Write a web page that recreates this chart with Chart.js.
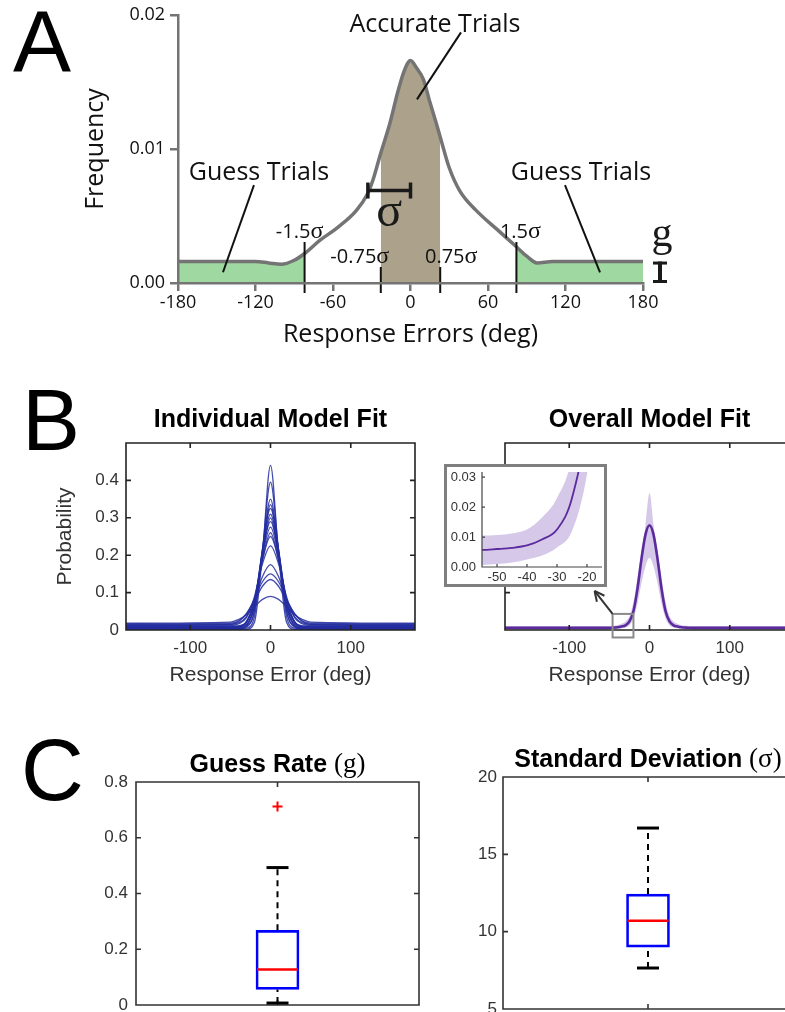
<!DOCTYPE html>
<html>
<head>
<meta charset="utf-8">
<title>Mixture model of response errors</title>
<script src="https://cdn.jsdelivr.net/npm/chart.js@4.4.1/dist/chart.umd.min.js"></script>
<style>
  html, body { margin: 0; padding: 0; background: #fff; overflow: hidden; width: 785px; height: 1012px; }
  #fig { position: relative; width: 785px; height: 1012px; overflow: hidden; }
  #fig > canvas { position: absolute; }
  #insetFrame { position: absolute; left: 444px; top: 464px; width: 157px; height: 117px;
                border: 3px solid #7f7f7f; background: #fff; }
  #insetFrame canvas { position: absolute; left: 0; top: 0; }
</style>
</head>
<body>
<div id="fig">
  <canvas id="panelA" width="785" height="360" style="left:0;top:0;width:785px;height:360px"></canvas>
  <canvas id="fitIndividual" width="440" height="320" style="left:0;top:380px;width:440px;height:320px"></canvas>
  <canvas id="fitOverall" width="380" height="320" style="left:420px;top:380px;width:380px;height:320px"></canvas>
  <div id="insetFrame"><canvas id="fitInset" width="157" height="117" style="width:157px;height:117px"></canvas></div>
  <canvas id="guessBoxChart" width="440" height="292" style="left:0;top:720px;width:440px;height:292px"></canvas>
  <canvas id="sdBoxChart" width="380" height="292" style="left:420px;top:720px;width:380px;height:292px"></canvas>
</div>
<script>
// ---------------- data ----------------
// A: schematic error distribution (deg -> frequency)
const schematicErrors = [-180,-150,-120,-110,-100,-90,-82,-70,-57,-42,-33,-29,-23,-16,-10,-5,0,5,10,15,20,23,30,38,51,67,82,90,98,110,120,150,180];
const schematicFreq   = [0.0016,0.0016,0.0016,0.0015,0.0014,0.0017,0.0022,0.0032,0.0041,0.0054,0.0067,0.0077,0.0097,0.0119,0.0142,0.0158,0.0166,0.0160,0.0152,0.0135,0.0119,0.0109,0.0086,0.0069,0.0054,0.0040,0.0027,0.0020,0.0015,0.0016,0.0016,0.0016,0.0016];
const guessZones   = [[-180, -82], [82, 180]];
const accurateZone = [-23, 23];
const boundaryDeg    = [-82, -23, 23, 82];
const boundaryLabels = ['-1.5', '-0.75', '0.75', '1.5'];
const sigmaSpan  = [-33, 0];
const sigmaLevel = 0.0069;
const errTicksA  = [-180, -120, -60, 0, 60, 120, 180];
const freqTicks  = [0, 0.01, 0.02];

// B: individual model fits (probability per response error)
const fitErrors = [-180,-50,-40,-30,-20,-10,0,10,20,30,40,50,180];
const fitS01 = [0.002,0.002,0.002,0.002,0.021,0.203,0.440,0.203,0.021,0.002,0.002,0.002,0.002];
const fitS02 = [0.003,0.003,0.003,0.005,0.036,0.214,0.395,0.214,0.036,0.005,0.003,0.003,0.003];
const fitS03 = [0.004,0.004,0.004,0.008,0.051,0.214,0.350,0.214,0.051,0.008,0.004,0.004,0.004];
const fitS04 = [0.006,0.006,0.006,0.010,0.050,0.206,0.335,0.206,0.050,0.010,0.006,0.006,0.006];
const fitS05 = [0.003,0.003,0.003,0.011,0.065,0.216,0.325,0.216,0.065,0.011,0.003,0.003,0.003];
const fitS06 = [0.008,0.008,0.008,0.015,0.066,0.208,0.310,0.208,0.066,0.015,0.008,0.008,0.008];
const fitS07 = [0.005,0.005,0.005,0.012,0.062,0.200,0.300,0.200,0.062,0.012,0.005,0.005,0.005];
const fitS08 = [0.007,0.007,0.008,0.019,0.078,0.207,0.290,0.207,0.078,0.019,0.008,0.007,0.007];
const fitS09 = [0.009,0.009,0.010,0.021,0.075,0.197,0.275,0.197,0.075,0.021,0.010,0.009,0.009];
const fitS10 = [0.010,0.010,0.011,0.021,0.072,0.187,0.260,0.187,0.072,0.021,0.011,0.010,0.010];
const fitS11 = [0.006,0.006,0.008,0.023,0.081,0.188,0.250,0.188,0.081,0.023,0.008,0.006,0.006];
const fitS12 = [0.012,0.012,0.016,0.033,0.089,0.177,0.225,0.177,0.089,0.033,0.016,0.012,0.012];
const fitS13 = [0.014,0.015,0.019,0.036,0.080,0.143,0.175,0.143,0.080,0.036,0.019,0.015,0.014];
const fitS14 = [0.016,0.018,0.024,0.044,0.083,0.129,0.150,0.129,0.083,0.044,0.024,0.018,0.016];
const fitS15 = [0.012,0.015,0.022,0.043,0.078,0.117,0.135,0.117,0.078,0.043,0.022,0.015,0.012];
const fitS16 = [0.018,0.021,0.028,0.041,0.062,0.082,0.090,0.082,0.062,0.041,0.028,0.021,0.018];
const subjectFits = [fitS01,fitS02,fitS03,fitS04,fitS05,fitS06,fitS07,fitS08,fitS09,fitS10,fitS11,fitS12,fitS13,fitS14,fitS15,fitS16];

// B: overall fit, mean with spread band
const overallErrors = [-180,-60,-55,-50,-45,-40,-35,-30,-25,-20,-15,-10,-5,0,5,10,15,20,25,30,35,40,45,50,55,60,180];
const overallMean  = [0.0057,0.0057,0.0057,0.0060,0.0064,0.0072,0.0092,0.0125,0.023,0.050,0.110,0.190,0.255,0.280,0.255,0.190,0.110,0.050,0.023,0.0125,0.0092,0.0072,0.0064,0.0060,0.0057,0.0057,0.0057];
const overallUpper = [0.0105,0.0105,0.0105,0.0107,0.0112,0.0125,0.0165,0.023,0.037,0.075,0.140,0.210,0.280,0.366,0.280,0.210,0.140,0.075,0.037,0.023,0.0165,0.0125,0.0112,0.0107,0.0105,0.0105,0.0105];
const overallLower = [0.0007,0.0007,0.0007,0.0010,0.0015,0.0025,0.0038,0.0065,0.012,0.031,0.070,0.125,0.170,0.193,0.170,0.125,0.070,0.031,0.012,0.0065,0.0038,0.0025,0.0015,0.0010,0.0007,0.0007,0.0007];
const errTicksB   = [-100, 0, 100];
const probTicks   = [0, 0.1, 0.2, 0.3, 0.4];
const insetTicksX = [-50, -40, -30, -20];
const insetTicksY = [0, 0.01, 0.02, 0.03];
const zoomWindow  = { xMin: -46, xMax: -20, yMin: -0.02, yMax: 0.043 };

// C: parameter distributions [lower whisker, Q1, median, Q3, upper whisker]
const guessBox      = [0.007, 0.056, 0.127, 0.268, 0.493];
const guessOutliers = [0.712];
const guessTicks    = [0, 0.2, 0.4, 0.6, 0.8];
const sdBox         = [7.65, 9.0, 10.7, 12.43, 16.7];
const sdOutliers    = [];
const sdTicks       = [5, 10, 15, 20];

// ---------------- helpers ----------------
const SANS = '"Liberation Sans", Arial, sans-serif';
const OPEN = '"Open Sans", sans-serif';
const SERIF = '"Liberation Serif", "Times New Roman", serif';

const pts = (xs, ys) => xs.map((x, i) => ({ x, y: ys[i] }));
const setTicks = vals => s => { s.ticks = vals.map(v => ({ value: v })); };
const fixSize = (w, h) => s => {
  if (w !== undefined) s.width = w;
  if (h !== undefined) s.height = h;
  s.paddingLeft = s.paddingRight = s.paddingTop = s.paddingBottom = 0;
};
const noGrid = { display: false, drawTicks: false };

function drawParts(ctx, parts, x, y, align) {
  let total = 0;
  parts.forEach(p => { ctx.font = p[1]; total += ctx.measureText(p[0]).width; });
  let cx = align === 'center' ? x - total / 2 : (align === 'right' ? x - total : x);
  ctx.textAlign = 'left';
  ctx.textBaseline = 'alphabetic';
  parts.forEach(p => { ctx.font = p[1]; ctx.fillText(p[0], cx, y); cx += ctx.measureText(p[0]).width; });
}

function seg(ctx, x1, y1, x2, y2) {
  ctx.beginPath(); ctx.moveTo(x1, y1); ctx.lineTo(x2, y2); ctx.stroke();
}

// boxed axes with inward tick marks
const matlabFrame = {
  id: 'matlabFrame',
  afterDatasetsDraw(chart, args, o) {
    if (!o || !o.on) return;
    const { ctx, chartArea: a } = chart;
    const xs = chart.scales.x, ys = chart.scales.y;
    const L = o.tick;
    ctx.save();
    ctx.strokeStyle = o.color;
    ctx.lineWidth = o.width;
    ctx.beginPath();
    if (o.box) {
      ctx.rect(a.left, a.top, a.right - a.left, a.bottom - a.top);
    } else {
      ctx.moveTo(a.left, a.top); ctx.lineTo(a.left, a.bottom); ctx.lineTo(a.right, a.bottom);
    }
    xs.ticks.forEach(t => {
      const p = xs.getPixelForValue(t.value);
      ctx.moveTo(p, a.bottom); ctx.lineTo(p, a.bottom - L);
      if (o.box) { ctx.moveTo(p, a.top); ctx.lineTo(p, a.top + L); }
    });
    ys.ticks.forEach(t => {
      const p = ys.getPixelForValue(t.value);
      ctx.moveTo(a.left, p); ctx.lineTo(a.left + L, p);
      if (o.box) { ctx.moveTo(a.right, p); ctx.lineTo(a.right - L, p); }
    });
    ctx.stroke();
    ctx.restore();
  }
};

function headerPlugin(id, parts, baseline, letter) {
  return {
    id,
    afterDraw(chart) {
      const { ctx, chartArea: a } = chart;
      ctx.save();
      ctx.fillStyle = '#000';
      drawParts(ctx, parts, (a.left + a.right) / 2, baseline, 'center');
      if (letter) {
        ctx.font = '87px ' + SANS;
        ctx.textAlign = 'left';
        ctx.textBaseline = 'alphabetic';
        ctx.fillText(letter[0], letter[1], letter[2]);
      }
      ctx.restore();
    }
  };
}

const baseOptions = () => ({
  responsive: false,
  maintainAspectRatio: false,
  animation: false,
  events: [],
  plugins: { legend: { display: false }, tooltip: { enabled: false } }
});

// ---------------- A: schematic ----------------
const aDecor = {
  id: 'aDecor',
  afterDatasetsDraw(chart) {
    const { ctx, chartArea: a, scales: { x, y } } = chart;
    ctx.save();
    ctx.fillStyle = '#000';
    ctx.font = '87px ' + SANS;
    ctx.textAlign = 'left';
    ctx.textBaseline = 'alphabetic';
    ctx.fillText('A', 13, 72);

    // ±0.75σ and ±1.5σ boundaries
    ctx.strokeStyle = '#111';
    ctx.fillStyle = '#111';
    ctx.lineWidth = 2;
    const labelShift = [-5, -21, 11, 4];
    boundaryDeg.forEach((d, i) => {
      const px = x.getPixelForValue(d);
      const outer = Math.abs(d) > 50;
      seg(ctx, px, a.bottom - (outer ? 41 : 16), px, a.bottom + 10);
      drawParts(ctx, [[boundaryLabels[i], '20px ' + OPEN], ['σ', '24px ' + SERIF]],
                px + labelShift[i], outer ? 238 : 263, 'center');
    });

    // σ width bracket
    const sx0 = x.getPixelForValue(sigmaSpan[0]);
    const sx1 = x.getPixelForValue(sigmaSpan[1]);
    const sy = y.getPixelForValue(sigmaLevel);
    ctx.strokeStyle = '#1a1a1a';
    ctx.lineWidth = 3.5;
    seg(ctx, sx0, sy, sx1, sy);
    seg(ctx, sx0, sy - 8, sx0, sy + 8);
    seg(ctx, sx1, sy - 8, sx1, sy + 8);
    ctx.fillStyle = '#1a1a1a';
    drawParts(ctx, [['σ', '48px ' + SERIF]], (sx0 + sx1) / 2, sy + 35, 'center');

    // callouts
    ctx.fillStyle = '#111';
    drawParts(ctx, [['Accurate Trials', '25px ' + OPEN]], 435, 32, 'center');
    drawParts(ctx, [['Guess Trials', '25px ' + OPEN]], 259, 180, 'center');
    drawParts(ctx, [['Guess Trials', '25px ' + OPEN]], 581, 180, 'center');
    ctx.strokeStyle = '#111';
    ctx.lineWidth = 2;
    const lead = (d0, f0, d1, f1) => seg(ctx, x.getPixelForValue(d0), y.getPixelForValue(f0),
                                              x.getPixelForValue(d1), y.getPixelForValue(f1));
    lead(39.1, 0.0187, 5.0, 0.0137);
    lead(-121.2, 0.0073, -145.2, 0.0008);
    lead(119.6, 0.0073, 146.7, 0.0008);

    // guess-rate height marker
    const gx = a.right + 17;
    const gTop = y.getPixelForValue(schematicFreq[0]);
    const gBot = y.getPixelForValue(0);
    ctx.strokeStyle = '#1a1a1a';
    ctx.lineWidth = 4;
    seg(ctx, gx, gTop, gx, gBot);
    ctx.lineWidth = 3;
    seg(ctx, gx - 7, gTop + 1.5, gx + 7, gTop + 1.5);
    seg(ctx, gx - 7, gBot - 1.5, gx + 7, gBot - 1.5);
    ctx.fillStyle = '#1a1a1a';
    drawParts(ctx, [['g', '42px ' + SERIF]], gx + 2, gTop - 16, 'center');
    ctx.restore();
  }
};

const schematicPts = pts(schematicErrors, schematicFreq);
const zonePts = (lo, hi) => schematicPts.filter(p => p.x >= lo && p.x <= hi);

const optA = baseOptions();
optA.layout = { padding: { left: 81, right: 142, top: 15, bottom: 10 } };
optA.scales = {
  x: {
    type: 'linear', min: -180, max: 180,
    afterBuildTicks: setTicks(errTicksA), afterFit: fixSize(undefined, 67),
    grid: { drawOnChartArea: false, drawTicks: true, tickLength: 8, color: '#747474', lineWidth: 2.5 },
    border: { color: '#747474', width: 2.5, z: 1 },
    ticks: { font: { family: OPEN, size: 18 }, color: '#111', padding: 1, maxRotation: 0, autoSkip: false },
    title: { display: true, text: 'Response Errors (deg)', font: { family: OPEN, size: 25 }, color: '#111', padding: 0 }
  },
  y: {
    min: 0, max: 0.02,
    afterBuildTicks: setTicks(freqTicks), afterFit: fixSize(97, undefined),
    grid: { drawOnChartArea: false, drawTicks: true, tickLength: 8, color: '#747474', lineWidth: 2.5 },
    border: { color: '#747474', width: 2.5, z: 1 },
    ticks: { font: { family: OPEN, size: 18 }, color: '#111', padding: 5, callback: v => v.toFixed(2) },
    title: { display: true, text: 'Frequency', font: { family: OPEN, size: 25 }, color: '#111', padding: 0 }
  }
};

new Chart(document.getElementById('panelA'), {
  type: 'line',
  data: {
    datasets: [
      { data: schematicPts, borderColor: '#747474', borderWidth: 3.5, pointRadius: 0,
        cubicInterpolationMode: 'monotone', fill: false },
      ...guessZones.map(z => ({ data: zonePts(z[0], z[1]), borderWidth: 0, pointRadius: 0,
        cubicInterpolationMode: 'monotone', fill: 'origin', backgroundColor: '#9fd8a0' })),
      { data: zonePts(accurateZone[0], accurateZone[1]), borderWidth: 0, pointRadius: 0,
        cubicInterpolationMode: 'monotone', fill: 'origin', backgroundColor: '#aca18a' }
    ]
  },
  options: optA,
  plugins: [aDecor]
});

// ---------------- B: model fits ----------------
const bScaleX = (height) => ({
  type: 'linear', min: -180, max: 180,
  afterBuildTicks: setTicks(errTicksB), afterFit: fixSize(undefined, height),
  grid: noGrid, border: { display: false },
  ticks: { font: { family: SANS, size: 17 }, color: '#333', padding: 8, maxRotation: 0, autoSkip: false },
  title: { display: true, text: 'Response Error (deg)', font: { family: SANS, size: 21 }, color: '#333', padding: 0 }
});

const optBL = baseOptions();
optBL.layout = { padding: { left: 53, right: 25, top: 63, bottom: 12 } };
optBL.scales = {
  x: bScaleX(58),
  y: {
    min: 0, max: 0.5,
    afterBuildTicks: setTicks(probTicks), afterFit: fixSize(73, undefined),
    grid: noGrid, border: { display: false },
    ticks: { font: { family: SANS, size: 17 }, color: '#333', padding: 7 },
    title: { display: true, text: 'Probability', font: { family: SANS, size: 21 }, color: '#333', padding: 0 }
  }
};
optBL.plugins.matlabFrame = { on: true, box: true, color: '#222', width: 1.6, tick: 5 };

new Chart(document.getElementById('fitIndividual'), {
  type: 'line',
  data: {
    datasets: subjectFits.map(f => ({
      data: pts(fitErrors, f), borderColor: 'rgba(36,46,160,0.85)', borderWidth: 1.3,
      pointRadius: 0, cubicInterpolationMode: 'monotone', fill: false
    }))
  },
  options: optBL,
  plugins: [matlabFrame, headerPlugin('titleIndividual', [['Individual Model Fit', 'bold 25px ' + SANS]], 47, ['B', 22, 70])]
});

const overallDatasets = (lineWidth) => [
  { data: pts(overallErrors, overallMean), borderColor: '#5b2b9e', borderWidth: lineWidth, pointRadius: 0,
    cubicInterpolationMode: 'monotone', fill: false },
  { data: pts(overallErrors, overallUpper), borderWidth: 0, pointRadius: 0,
    cubicInterpolationMode: 'monotone', fill: { target: 2 }, backgroundColor: 'rgba(178,155,214,0.55)' },
  { data: pts(overallErrors, overallLower), borderWidth: 0, pointRadius: 0,
    cubicInterpolationMode: 'monotone', fill: false }
];

const overallDecor = {
  id: 'overallDecor',
  afterDatasetsDraw(chart) {
    const { ctx, scales: { x, y } } = chart;
    const x0 = x.getPixelForValue(zoomWindow.xMin), x1 = x.getPixelForValue(zoomWindow.xMax);
    const y0 = y.getPixelForValue(zoomWindow.yMax), y1 = y.getPixelForValue(zoomWindow.yMin);
    ctx.save();
    ctx.strokeStyle = '#8a8a8a';
    ctx.lineWidth = 2;
    ctx.strokeRect(x0, y0, x1 - x0, y1 - y0);
    // pointer to the magnified view
    const hx = x0 - 18, hy = y0 - 23;
    ctx.strokeStyle = '#333';
    ctx.lineWidth = 2;
    seg(ctx, x0, y0, hx, hy);
    const ang = Math.atan2(hy - y0, hx - x0);
    [0.45, -0.45].forEach(da => seg(ctx, hx, hy, hx - 11 * Math.cos(ang + da), hy - 11 * Math.sin(ang + da)));
    ctx.restore();
  }
};

const optBR = baseOptions();
optBR.layout = { padding: { left: 85, right: 6, top: 63, bottom: 12 } };
optBR.scales = {
  x: bScaleX(58),
  y: { display: false, min: 0, max: 0.5, afterBuildTicks: setTicks(probTicks) }
};
optBR.plugins.matlabFrame = { on: true, box: true, color: '#222', width: 1.6, tick: 5 };

new Chart(document.getElementById('fitOverall'), {
  type: 'line',
  data: { datasets: overallDatasets(2.6) },
  options: optBR,
  plugins: [matlabFrame, overallDecor, headerPlugin('titleOverall', [['Overall Model Fit', 'bold 25px ' + SANS]], 47)]
});

const optIn = baseOptions();
optIn.layout = { padding: { left: 0, right: 2, top: 5, bottom: 0 } };
optIn.scales = {
  x: {
    type: 'linear', min: -55, max: -15,
    afterBuildTicks: setTicks(insetTicksX), afterFit: fixSize(undefined, 17),
    grid: noGrid, border: { display: false },
    ticks: { font: { family: SANS, size: 13 }, color: '#333', padding: 3, maxRotation: 0, autoSkip: false }
  },
  y: {
    min: 0, max: 0.0317,
    afterBuildTicks: setTicks(insetTicksY), afterFit: fixSize(35, undefined),
    grid: noGrid, border: { display: false },
    ticks: { font: { family: SANS, size: 13 }, color: '#333', padding: 6, callback: v => v.toFixed(2) }
  }
};
optIn.plugins.matlabFrame = { on: true, box: false, color: '#444', width: 1.2, tick: 3 };

new Chart(document.getElementById('fitInset'), {
  type: 'line',
  data: { datasets: overallDatasets(1.8) },
  options: optIn,
  plugins: [matlabFrame]
});

// ---------------- C: parameter box plots ----------------
function boxWhiskers(id, stats) {
  return {
    id,
    afterDatasetsDraw(chart) {
      const { ctx, scales: { x, y } } = chart;
      const bar = chart.getDatasetMeta(0).data[0];
      const cx = x.getPixelForValue(0);
      const half = bar.width / 2;
      const cap = 11;
      const py = v => y.getPixelForValue(v);
      ctx.save();
      ctx.strokeStyle = '#000';
      ctx.lineWidth = 2;
      ctx.setLineDash([6, 5]);
      seg(ctx, cx, py(stats[3]), cx, py(stats[4]));
      seg(ctx, cx, py(stats[0]), cx, py(stats[1]));
      ctx.setLineDash([]);
      ctx.lineWidth = 3;
      seg(ctx, cx - cap, py(stats[4]), cx + cap, py(stats[4]));
      seg(ctx, cx - cap, py(stats[0]), cx + cap, py(stats[0]));
      ctx.strokeStyle = '#ff0000';
      ctx.lineWidth = 2.5;
      seg(ctx, cx - half + 1, py(stats[2]), cx + half - 1, py(stats[2]));
      ctx.restore();
    }
  };
}

function boxChart(canvasId, label, stats, outliers, ticks, yMin, yMax, pad, yWidth, tickPad, header, headerBaseline, letter) {
  const opt = baseOptions();
  opt.layout = { padding: pad };
  opt.scales = {
    x: { display: false },
    y: {
      min: yMin, max: yMax,
      afterBuildTicks: setTicks(ticks), afterFit: fixSize(yWidth, undefined),
      grid: noGrid, border: { display: false },
      ticks: { font: { family: SANS, size: 17 }, color: '#333', padding: tickPad }
    }
  };
  opt.plugins.matlabFrame = { on: true, box: true, color: '#333', width: 1.6, tick: 5 };
  new Chart(document.getElementById(canvasId), {
    type: 'bar',
    data: {
      labels: [label],
      datasets: [
        { data: [[stats[1], stats[3]]], backgroundColor: 'rgba(0,0,0,0)', borderColor: '#0000ff',
          borderWidth: 2, borderSkipped: false, barThickness: 43 },
        { type: 'line', data: outliers.map(v => ({ x: label, y: v })), showLine: false,
          pointStyle: 'cross', pointRadius: 5, pointBorderWidth: 2, borderColor: '#ff0000' }
      ]
    },
    options: opt,
    plugins: [matlabFrame, boxWhiskers(canvasId + 'Whiskers', stats), headerPlugin(canvasId + 'Title', header, headerBaseline, letter)]
  });
}

boxChart('guessBoxChart', 'guess', guessBox, guessOutliers, guessTicks, 0, 0.8,
  { left: 60, right: 21, top: 62, bottom: 3 }, 76, 8,
  [['Guess Rate ', 'bold 25px ' + SANS], ['(g)', '27px ' + SERIF]], 52, ['C', 21, 80]);

boxChart('sdBoxChart', 'sd', sdBox, sdOutliers, sdTicks, 5, 20,
  { left: 40, right: 7, top: 57, bottom: 3 }, 43, 6,
  [['Standard Deviation ', 'bold 25px ' + SANS], ['(σ)', '27px ' + SERIF]], 47, null);
</script>
</body>
</html>
